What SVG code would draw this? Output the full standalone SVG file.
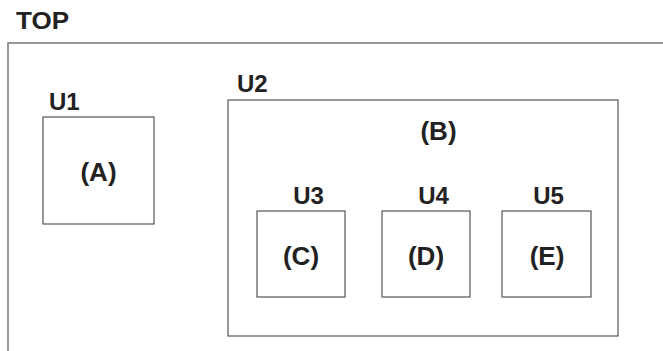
<svg xmlns="http://www.w3.org/2000/svg" width="663" height="351" viewBox="0 0 663 351">
<style>
.box{fill:none;stroke:#555;stroke-width:1.2}
.outer{fill:none;stroke:#777;stroke-width:1.5}
.lbl{font-family:"Liberation Sans",Arial,sans-serif;font-weight:bold;font-size:24px;fill:#222}
.in{font-family:"Liberation Sans",Arial,sans-serif;font-weight:bold;font-size:26px;fill:#222;text-anchor:middle}
</style>
<rect width="663" height="351" fill="#fff"/>
<g id="TOP">
<rect class="outer" x="8" y="43" width="700" height="400"/>
<text class="lbl" x="16" y="29" font-size="22" textLength="53" lengthAdjust="spacingAndGlyphs">TOP</text>
</g>
<g id="U1">
<rect class="box" x="43" y="117" width="111" height="107"/>
<text class="lbl" x="49" y="110">U1</text>
<text class="in" x="98.5" y="181">(A)</text>
</g>
<g id="U2">
<rect class="box" x="228" y="100" width="390" height="236"/>
<text class="lbl" x="237" y="92">U2</text>
<text class="in" x="438.5" y="140">(B)</text>
</g>
<g id="U3">
<rect class="box" x="257" y="211" width="88" height="86"/>
<text class="lbl" x="308.5" y="204" text-anchor="middle">U3</text>
<text class="in" x="301" y="265">(C)</text>
</g>
<g id="U4">
<rect class="box" x="382" y="211" width="88" height="86"/>
<text class="lbl" x="433.5" y="204" text-anchor="middle">U4</text>
<text class="in" x="426" y="265">(D)</text>
</g>
<g id="U5">
<rect class="box" x="502" y="211" width="89" height="86"/>
<text class="lbl" x="548.5" y="204" text-anchor="middle">U5</text>
<text class="in" x="547" y="265">(E)</text>
</g>
<g id="connectors"></g>
</svg>
